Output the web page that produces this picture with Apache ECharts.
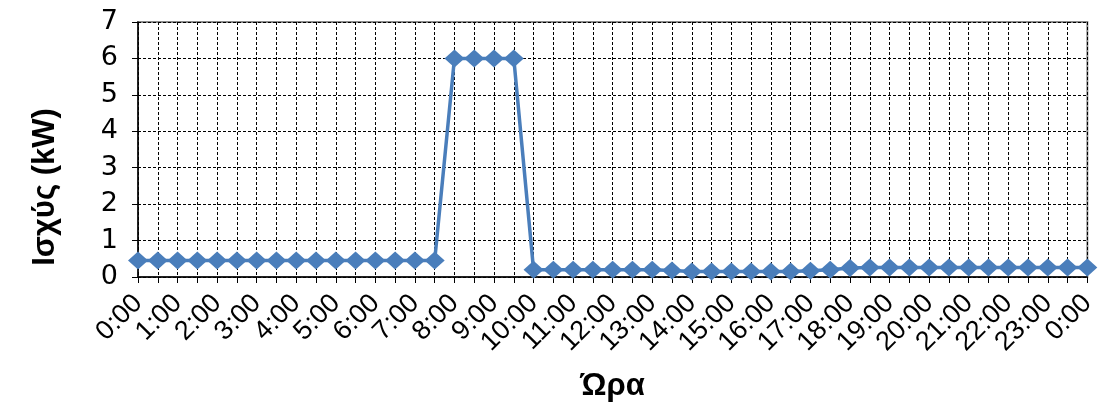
<!DOCTYPE html>
<html>
<head>
<meta charset="utf-8">
<script src="https://cdn.jsdelivr.net/npm/echarts@6/dist/echarts.min.js"></script>
<style>
  html, body { margin: 0; padding: 0; background: #fff; }
  #chart { width: 1099px; height: 417px; }
</style>
</head>
<body>
<div id="chart"></div>
<script>
// Half-hourly time slots across one day
const times = [
  '0:00','0:30','1:00','1:30','2:00','2:30','3:00','3:30',
  '4:00','4:30','5:00','5:30','6:00','6:30','7:00','7:30',
  '8:00','8:30','9:00','9:30','10:00','10:30','11:00','11:30',
  '12:00','12:30','13:00','13:30','14:00','14:30','15:00','15:30',
  '16:00','16:30','17:00','17:30','18:00','18:30','19:00','19:30',
  '20:00','20:30','21:00','21:30','22:00','22:30','23:00','23:30',
  '0:00'
];

// Power demand per slot (kW)
const power = [
  0.45, 0.45, 0.45, 0.45, 0.45, 0.45, 0.45, 0.45,
  0.45, 0.45, 0.45, 0.45, 0.45, 0.45, 0.45, 0.45,
  6, 6, 6, 6, 0.2, 0.2, 0.2, 0.2,
  0.2, 0.2, 0.2, 0.18, 0.15, 0.15, 0.15, 0.15,
  0.15, 0.15, 0.17, 0.2, 0.25, 0.26, 0.26, 0.26,
  0.26, 0.26, 0.26, 0.26, 0.26, 0.26, 0.26, 0.26,
  0.26
];

const yTicks = [0, 1, 2, 3, 4, 5, 6, 7];

const yTitle = 'Ισχύς (kW)';
const xTitle = 'Ώρα';

const chart = echarts.init(document.getElementById('chart'), null, { renderer: 'canvas' });

chart.setOption({
  animation: false,
  backgroundColor: '#ffffff',
  grid: {
    left: 138, right: 9, top: 22, bottom: 140,
    show: true, borderColor: '#8a8a8a', borderWidth: 2
  },
  graphic: [{
    type: 'text',
    x: 45, y: 187,
    rotation: Math.PI / 2,
    style: {
      text: yTitle,
      font: 'bold 31px "Liberation Sans", Arial, sans-serif',
      fill: '#000',
      align: 'center',
      verticalAlign: 'middle'
    }
  }],
  xAxis: {
    type: 'category',
    data: times,
    boundaryGap: false,
    name: xTitle,
    nameLocation: 'middle',
    nameGap: 94,
    nameTextStyle: {
      fontFamily: '"Liberation Sans", Arial, sans-serif',
      fontWeight: 'bold', fontSize: 31, color: '#000'
    },
    axisLine: { lineStyle: { color: '#000', width: 1.5 } },
    axisTick: { show: true, interval: 0, length: 6, inside: false,
                lineStyle: { color: '#000', width: 1 } },
    axisLabel: {
      interval: 1, rotate: 45, margin: 22,
      padding: [30, 0, 0, 0],
      fontFamily: '"Liberation Sans", Arial, sans-serif',
      fontSize: 27, color: '#000'
    },
    splitLine: { show: true, interval: 0,
                 lineStyle: { color: '#000', width: 1, type: [3, 2] } }
  },
  yAxis: {
    type: 'value',
    min: yTicks[0], max: yTicks[yTicks.length - 1], interval: 1,
    axisLine: { show: true, lineStyle: { color: '#000', width: 1.5 } },
    axisTick: { show: true, length: 6, lineStyle: { color: '#000', width: 1 } },
    axisLabel: {
      margin: 20,
      fontFamily: '"DejaVu Sans", sans-serif',
      fontSize: 27, color: '#000'
    },
    splitLine: { show: true, lineStyle: { color: '#000', width: 1, type: [3, 2] } }
  },
  series: [{
    type: 'line',
    data: power,
    symbol: 'diamond',
    symbolSize: [20, 18],
    showAllSymbol: true,
    clip: false,
    lineStyle: { color: '#4a7ebb', width: 3.5 },
    itemStyle: { color: '#4a7ebb', borderWidth: 0 },
    z: 5
  }]
});
</script>
</body>
</html>
